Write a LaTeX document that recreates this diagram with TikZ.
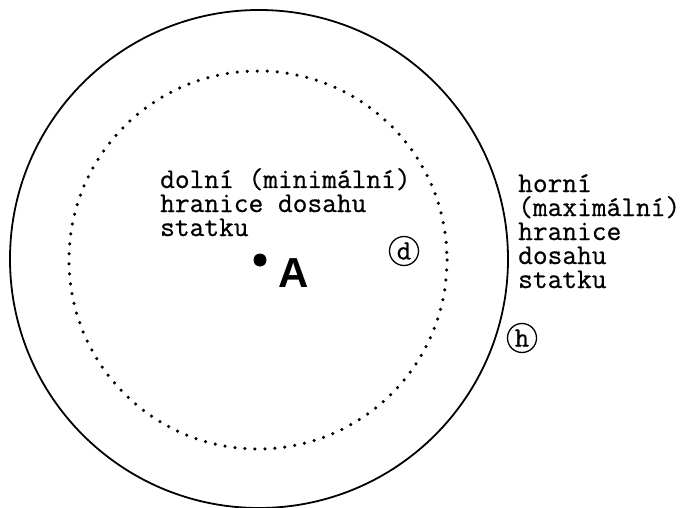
\documentclass[tikz,border=0pt]{standalone}
\usepackage{fontspec}
\newfontfamily\monofnt[FakeBold=0.6]{Latin Modern Mono}
\newfontfamily\sansfnt{Liberation Sans}
\setlength{\lineskiplimit}{-100pt}
\begin{document}
\begin{tikzpicture}[x=1pt,y=-1pt,
  lbl/.style={anchor=base west,inner sep=0pt,align=left,font=\monofnt\fontsize{28.6}{24}\selectfont},
  circlbl/.style={draw,circle,line width=1.3pt,minimum size=29pt,inner sep=0pt,font=\monofnt\fontsize{28}{28}\selectfont},
  outerc/.style={line width=1.8pt},
  innerc/.style={line width=3.5pt,line cap=round,dash pattern=on 0pt off 10pt}]
\useasboundingbox (0,0) rectangle (683,508);
\fill[white] (0,0) rectangle (683,508);
\draw[outerc] (259,259) circle[radius=249];
\draw[innerc] (258,260) circle[radius=189];
\fill (260,260) circle[radius=6.5] node (ptA) {};
\node[anchor=center,inner sep=0pt,font=\sansfnt\bfseries\fontsize{42}{42}\selectfont] (labA) at (294,273) {A};
\node[lbl] (lower) at (160,236) {dolní (minimální)\\hranice dosahu\\statku};
\node[lbl] (upper) at (518,288) {horní\\(maximální)\\hranice\\dosahu\\statku};
\node[circlbl] (d) at (404,251) {d};
\node[circlbl] (h) at (522,338) {h};
\end{tikzpicture}
\end{document}
